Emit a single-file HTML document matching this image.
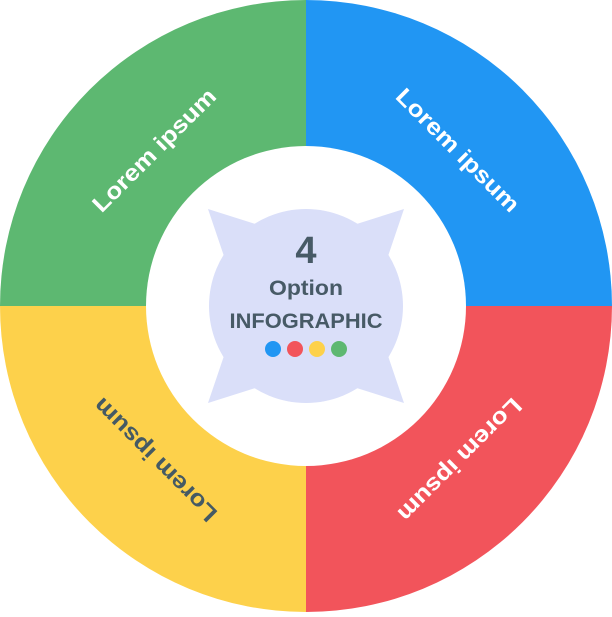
<!DOCTYPE html>
<html><head><style>body{margin:0;background:#fff}</style></head><body>
<svg width="612" height="612" viewBox="0 0 612 612" xmlns="http://www.w3.org/2000/svg">
<path d="M306 306 L306 0 A306 306 0 0 1 612 306 Z" fill="#2196F3"/>
<path d="M306 306 L612 306 A306 306 0 0 1 306 612 Z" fill="#F2545B"/>
<path d="M306 306 L306 612 A306 306 0 0 1 0 306 Z" fill="#FDD14B"/>
<path d="M306 306 L0 306 A306 306 0 0 1 306 0 Z" fill="#5DB871"/>
<circle cx="306" cy="306" r="160" fill="#fff"/>
<g fill="#DADFF9">
<circle cx="306" cy="306" r="97"/>
<polygon points="208,209 268,228 228,268"/>
<polygon points="404,209 344,228 384,268"/>
<polygon points="208,403 268,384 228,344"/>
<polygon points="404,403 344,384 384,344"/>
</g>
<g font-family="Liberation Sans, sans-serif" font-weight="bold" fill="#475A66" text-anchor="middle">
<text x="306" y="263" font-size="38">4</text>
<text x="306" y="295" font-size="21" textLength="74" lengthAdjust="spacingAndGlyphs">Option</text>
<text x="306" y="328" font-size="21" textLength="153" lengthAdjust="spacingAndGlyphs">INFOGRAPHIC</text>
</g>
<circle cx="273" cy="349" r="8" fill="#2196F3"/>
<circle cx="295" cy="349" r="8" fill="#F2545B"/>
<circle cx="317" cy="349" r="8" fill="#FDD14B"/>
<circle cx="339" cy="349" r="8" fill="#5DB871"/>
<g font-family="Liberation Sans, sans-serif" font-weight="bold" font-size="23" text-anchor="middle">
<text fill="#fff" transform="translate(458,150) rotate(45)" y="8" textLength="164" lengthAdjust="spacingAndGlyphs">Lorem ipsum</text>
<text fill="#fff" transform="translate(154,150) rotate(-45)" y="8" textLength="164" lengthAdjust="spacingAndGlyphs">Lorem ipsum</text>
<text fill="#fff" transform="translate(460,460) rotate(135)" y="8" textLength="164" lengthAdjust="spacingAndGlyphs">Lorem ipsum</text>
<text fill="#455A64" transform="translate(155,460) rotate(-135)" y="8" textLength="164" lengthAdjust="spacingAndGlyphs">Lorem ipsum</text>
</g>
</svg>
</body></html>
